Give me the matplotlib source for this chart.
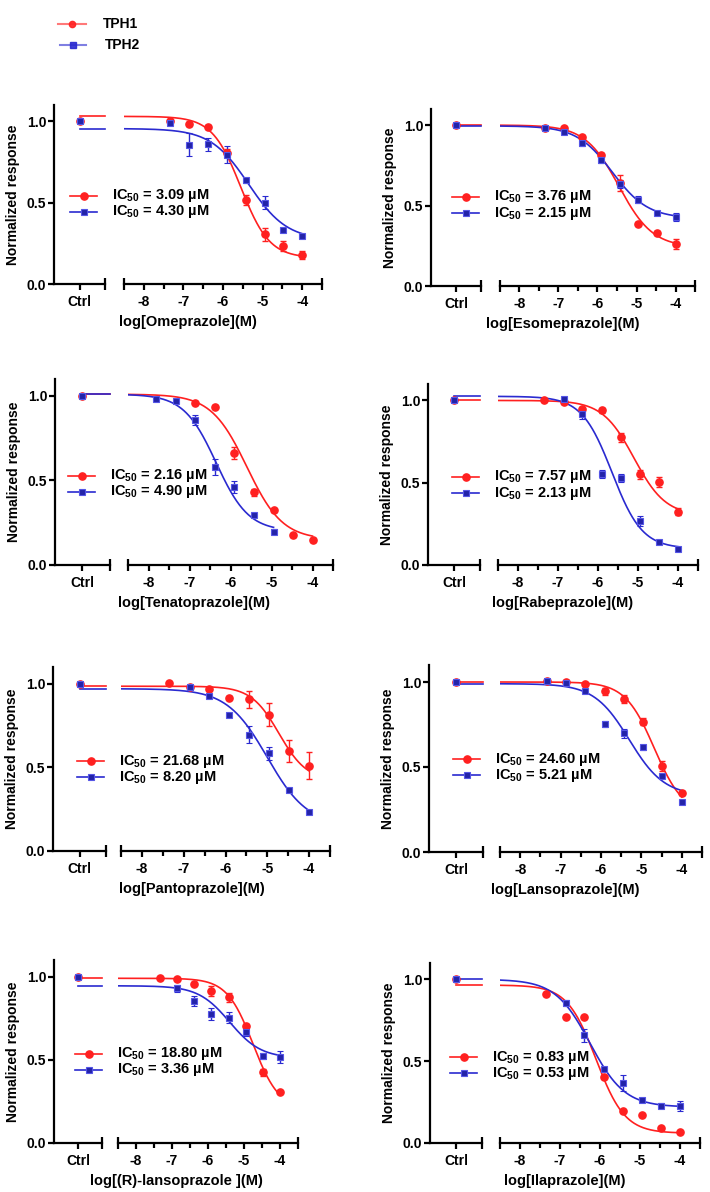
import matplotlib.pyplot as plt
from matplotlib.lines import Line2D
import numpy as np

plt.rcParams['font.family'] = 'Liberation Sans'
plt.rcParams['font.weight'] = 'bold'
plt.rcParams['axes.labelweight'] = 'bold'
plt.rcParams['mathtext.default'] = 'regular'

# ---- data ----
drugs = ['Omeprazole', 'Esomeprazole', 'Tenatoprazole', 'Rabeprazole',
         'Pantoprazole', 'Lansoprazole', '(R)-lansoprazole ', 'Ilaprazole']
ic50_tph1 = ['3.09', '3.76', '2.16', '7.57', '21.68', '24.60', '18.80', '0.83']
ic50_tph2 = ['4.30', '2.15', '4.90', '2.13', '8.20', '5.21', '3.36', '0.53']

conc8 = [-7.34, -6.86, -6.39, -5.91, -5.43, -4.95, -4.48, -4.0]
conc7 = [-6.86, -6.39, -5.91, -5.43, -4.95, -4.48, -4.0]
conc7_low = [-7.82, -7.34, -6.86, -6.39, -5.91, -5.43, -4.95]

tph1_x = [conc8, conc8, conc7, conc8, conc8, conc8, conc8, conc8]
tph1_y = [
    [1.0, 0.984, 0.965, 0.807, 0.514, 0.305, 0.232, 0.176],
    [0.985, 0.98, 0.926, 0.814, 0.64, 0.388, 0.33, 0.262],
    [0.96, 0.937, 0.66, 0.43, 0.324, 0.176, 0.148],
    [1.0, 0.99, 0.95, 0.94, 0.775, 0.55, 0.505, 0.325],
    [1.006, 0.98, 0.97, 0.916, 0.906, 0.816, 0.6, 0.51],
    [1.006, 1.0, 0.988, 0.945, 0.9, 0.767, 0.506, 0.348],
    [0.994, 0.986, 0.958, 0.915, 0.875, 0.704, 0.425, 0.304],
    [0.912, 0.77, 0.77, 0.402, 0.194, 0.173, 0.092, 0.065],
]
tph1_err = [
    [0.005, 0.01, 0.01, 0.02, 0.03, 0.04, 0.03, 0.025],
    [0.01, 0.01, 0.01, 0.01, 0.05, 0.01, 0.01, 0.03],
    [0.01, 0.01, 0.035, 0.02, 0.01, 0.01, 0.01],
    [0.005, 0.01, 0.01, 0.015, 0.025, 0.03, 0.03, 0.02],
    [0.005, 0.005, 0.01, 0.01, 0.05, 0.07, 0.065, 0.08],
    [0.01, 0.01, 0.005, 0.02, 0.025, 0.02, 0.03, 0.01],
    [0.005, 0.005, 0.01, 0.03, 0.025, 0.01, 0.02, 0.005],
    [0.005, 0.005, 0.005, 0.005, 0.005, 0.005, 0.005, 0.005],
]

tph2_x = [conc8, conc8, conc7_low, conc7, conc7, conc8, conc7, conc7]
tph2_y = [
    [0.99, 0.857, 0.86, 0.795, 0.637, 0.5, 0.33, 0.295],
    [0.985, 0.957, 0.888, 0.781, 0.634, 0.537, 0.455, 0.428],
    [0.98, 0.97, 0.858, 0.58, 0.46, 0.296, 0.198],
    [1.01, 0.92, 0.555, 0.53, 0.27, 0.137, 0.1],
    [0.98, 0.924, 0.816, 0.696, 0.584, 0.366, 0.234],
    [1.006, 0.996, 0.95, 0.753, 0.698, 0.615, 0.447, 0.292],
    [0.929, 0.851, 0.774, 0.754, 0.667, 0.522, 0.516],
    [0.855, 0.657, 0.453, 0.367, 0.265, 0.229, 0.224],
]
tph2_err = [
    [0.01, 0.07, 0.04, 0.05, 0.015, 0.04, 0.01, 0.01],
    [0.01, 0.01, 0.02, 0.015, 0.025, 0.02, 0.01, 0.025],
    [0.01, 0.01, 0.03, 0.045, 0.035, 0.01, 0.015],
    [0.01, 0.03, 0.025, 0.025, 0.03, 0.01, 0.01],
    [0.01, 0.01, 0.01, 0.05, 0.04, 0.01, 0.01],
    [0.01, 0.01, 0.01, 0.015, 0.025, 0.015, 0.01, 0.01],
    [0.02, 0.03, 0.035, 0.035, 0.025, 0.02, 0.035],
    [0.02, 0.04, 0.01, 0.05, 0.01, 0.015, 0.03],
]

# fitted 4PL curves: top, bottom, logIC50, hill
fit_tph1 = [(1.03, 0.16, -5.55, 1.2), (1.0, 0.24, -5.45, 1.0),
            (1.01, 0.15, -5.6, 1.0), (1.0, 0.3, -5.1, 1.1),
            (0.985, 0.42, -4.72, 1.3), (1.0, 0.22, -4.68, 1.2),
            (0.99, 0.2, -4.75, 1.2), (0.965, 0.06, -6.1, 1.2)]
fit_tph2 = [(0.955, 0.27, -5.35, 0.9), (0.995, 0.42, -5.62, 0.95),
            (1.01, 0.2, -6.35, 1.1), (1.025, 0.1, -5.65, 1.15),
            (0.97, 0.15, -5.0, 0.9), (0.99, 0.33, -5.3, 1.0),
            (0.945, 0.51, -5.4, 1.0), (1.0, 0.22, -6.25, 1.0)]

ctrl_value = 1.0

# ---- layout (pixels) ----
W, H = 710, 1192
# ctrl left, ctrl right, main left, main right, axis bottom, axis top
boxes = [
    (54, 105, 124, 322, 284, 105),
    (431, 481, 500, 695, 286, 109),
    (55, 110, 128, 333, 565, 379),
    (428, 480, 498, 698, 565, 384),
    (53, 106, 121, 330, 851, 667),
    (429, 483, 500, 702, 852, 665),
    (54, 102, 118, 298, 1143, 960),
    (430, 482, 500, 700, 1143, 963),
]
legend_pos = [(70, 196), (452, 197), (68, 476), (452, 477),
              (77, 761), (453, 759), (75, 1054), (450, 1057)]

red = '#FF2020'
blue = '#2A2AD0'
blue_face = '#2323A8'
blue_edge = '#5555E6'
fs = 10


def fx(px):
    return px / W


def fy(py):
    return 1 - py / H


def logistic(x, top, bottom, logic50, hill):
    return bottom + (top - bottom) / (1 + 10 ** ((x - logic50) * hill))


fig = plt.figure(figsize=(W / 100, H / 100), dpi=100)

red_style = dict(marker='o', ms=5.2, mfc=red, mec=red, color=red)
blue_style = dict(marker='s', ms=5.0, mfc=blue_face, mec=blue_edge, mew=0.8,
                  color=blue)

for i in range(8):
    cl, cr, ml, mr, yb, yt = boxes[i]
    axc = fig.add_axes([fx(cl), fy(yb), fx(cr - cl), (yb - yt) / H])
    axm = fig.add_axes([fx(ml), fy(yb), fx(mr - ml), (yb - yt) / H])

    for ax in (axc, axm):
        ax.set_ylim(0, 1.1)
        ax.spines['top'].set_visible(False)
        ax.spines['right'].set_visible(False)
        ax.spines['bottom'].set_linewidth(1.6)
        ax.spines['left'].set_linewidth(1.6)
        ax.tick_params(width=1.6, length=4.5, labelsize=fs, pad=3.5)
        ax.patch.set_alpha(0)

    # control segment
    axc.set_xlim(0, 1)
    axc.set_xticks([0.5])
    axc.set_xticklabels(['Ctrl'], fontweight='bold')
    axc.set_yticks([0, 0.5, 1.0])
    axc.set_yticklabels(['0.0', '0.5', '1.0'], fontweight='bold')
    axc.tick_params(axis='y', pad=1)
    axc.set_ylabel('Normalized response', fontsize=fs, fontweight='bold',
                   labelpad=5)
    axc.plot([0.5, 1.0], [fit_tph1[i][0]] * 2, color=red, lw=1.2,
             clip_on=False)
    axc.plot([0.5, 1.0], [fit_tph2[i][0]] * 2, color=blue, lw=1.2,
             clip_on=False)
    axc.plot([0.5], [ctrl_value], ls='none', clip_on=False, **red_style)
    axc.plot([0.5], [ctrl_value], ls='none', clip_on=False, **blue_style)
    axc.plot([1.0], [0], marker='|', ms=8, mew=1.6, color='black',
             clip_on=False)

    # concentration segment
    axm.spines['left'].set_visible(False)
    axm.set_xlim(-8.5, -3.5)
    axm.set_xticks([-8, -7, -6, -5, -4])
    axm.set_xticklabels(['-8', '-7', '-6', '-5', '-4'], fontweight='bold')
    axm.set_xticks([-7.5, -6.5, -5.5, -4.5], minor=True)
    axm.tick_params(axis='x', which='minor', width=1.6, length=3.5)
    axm.set_yticks([])
    axm.plot([-8.5, -3.5], [0, 0], ls='none', marker='|', ms=8, mew=1.6,
             color='black', clip_on=False)

    xs1 = np.linspace(-8.5, max(tph1_x[i]), 300)
    xs2 = np.linspace(-8.5, max(tph2_x[i]), 300)
    axm.plot(xs1, logistic(xs1, *fit_tph1[i]), color=red, lw=1.2)
    axm.plot(xs2, logistic(xs2, *fit_tph2[i]), color=blue, lw=1.2)
    axm.errorbar(tph1_x[i], tph1_y[i], yerr=tph1_err[i], ls='none',
                 ecolor=red, elinewidth=1, capsize=2, capthick=1,
                 clip_on=False, **red_style)
    axm.errorbar(tph2_x[i], tph2_y[i], yerr=tph2_err[i], ls='none',
                 ecolor=blue, elinewidth=1, capsize=2, capthick=1,
                 clip_on=False, **blue_style)

    # x label centred on the whole panel
    fig.text(fx((cl + mr) / 2), fy(yb + 38), 'log[' + drugs[i] + '](M)',
             ha='center', va='center', fontsize=fs + 0.5, fontweight='bold')

    # inner legend
    lx, ly = legend_pos[i]
    for k, (lab, st, col) in enumerate([(ic50_tph1[i], red_style, red),
                                         (ic50_tph2[i], blue_style, blue)]):
        yy = fy(ly + 16 * k)
        fig.add_artist(Line2D([fx(lx), fx(lx + 27)], [yy, yy], color=col,
                              lw=1.2, transform=fig.transFigure))
        fig.add_artist(Line2D([fx(lx + 13.5)], [yy],
                              transform=fig.transFigure, **st))
        fig.text(fx(lx + 42), yy, 'IC$_{50}$ = ' + lab + ' \u00b5M',
                 ha='left', va='center', fontsize=fs + 0.5,
                 fontweight='bold')

# top legend
top_legend = [('TPH1', red, 'o', 24, 58), ('TPH2', blue, 's', 45, 60)]
for name, col, mk, ly, lx in top_legend:
    yy = fy(ly)
    fig.add_artist(Line2D([fx(lx), fx(86)], [yy, yy], color=col, lw=1.5,
                          alpha=0.6, transform=fig.transFigure))
    fig.add_artist(Line2D([fx((lx + 86) / 2)], [yy], marker=mk, ms=4.5,
                          color=col, alpha=0.9, transform=fig.transFigure))
    fig.text(fx(lx + 45), yy, name, ha='left', va='center', fontsize=fs,
             fontweight='bold')

plt.savefig('out.png', dpi=100)
